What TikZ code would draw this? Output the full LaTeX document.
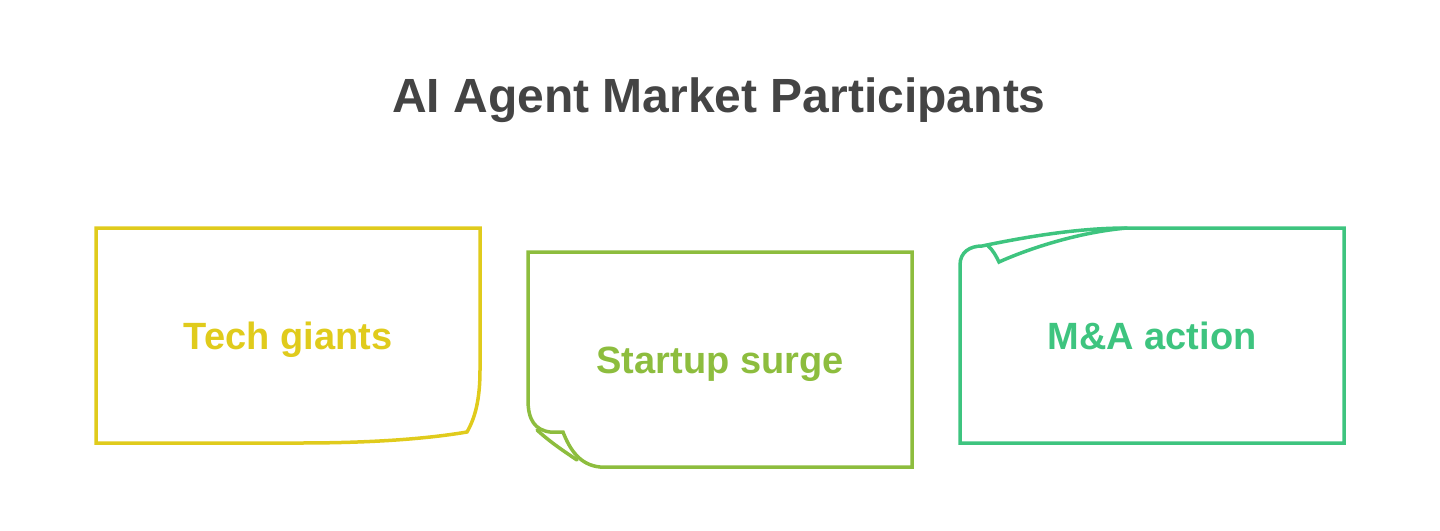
\documentclass[tikz,border=0pt]{standalone}
\usepackage{fontspec}
\setmainfont{Liberation Sans}
\definecolor{titlegray}{HTML}{444444}
\definecolor{cyellow}{HTML}{E0CB1C}
\definecolor{colive}{HTML}{8DBD3E}
\definecolor{cgreen}{HTML}{3EC47F}
\begin{document}
\begin{tikzpicture}[x=1pt,y=-1pt,
  boxline/.style={line width=3.5pt,line join=miter},
  lbl/.style={font=\bfseries\fontsize{38}{44}\selectfont,inner sep=0pt,anchor=base}]
\useasboundingbox (0,0) rectangle (1440,530);
\node[font=\bfseries\fontsize{48}{56}\selectfont,text=titlegray,inner sep=0pt,anchor=base] (title) at (719,112) {AI Agent Market Participants};
% box 1
\draw[boxline,cyellow] (96,228) -- (480,228) -- (480,370)
  .. controls (480,400) and (475,418) .. (467,432)
  .. controls (420,440) and (360,443) .. (300,443) -- (96,443) -- cycle;
\node[lbl,text=cyellow] (b1) at (288,349) {Tech giants};
% box 2
\draw[boxline,colive] (528,252) -- (912,252) -- (912,467) -- (600,467)
  .. controls (580,465) and (570,450) .. (563,432) -- (550,432)
  .. controls (535,430) and (528,420) .. (528,400) -- cycle;
\draw[boxline,colive,line cap=round] (537,430) .. controls (550,442) and (565,452) .. (577,460);
\node[lbl,text=colive] (b2) at (720,373) {Startup surge};
% box 3
\draw[boxline,cgreen] (960,443) -- (960,265)
  .. controls (960,252) and (970,246) .. (982,246)
  .. controls (1030,236) and (1080,228) .. (1127,228) -- (1344,228) -- (1344,443) -- cycle;
\draw[boxline,cgreen,line cap=round] (988,246) .. controls (993,250) and (996,256) .. (999,262)
  .. controls (1030,248) and (1080,232) .. (1127,228);
\node[lbl,text=cgreen] (b3) at (1152,349) {M\&A action};
\end{tikzpicture}
\end{document}
